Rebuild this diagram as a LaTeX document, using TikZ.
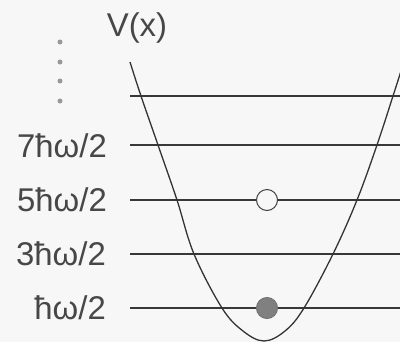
\documentclass[tikz,border=0pt]{standalone}
\usepackage{fontspec}
\setmainfont{Liberation Sans}
\begin{document}
\begin{tikzpicture}[x=1bp,y=-1bp,
  lbl/.style={anchor=east, font=\fontsize{33}{33}\selectfont, text=black!72, inner sep=0pt},
  level/.style={draw=black!78, line width=1.3pt},
  curve/.style={draw=black!80, line width=1.3pt},
  dot/.style={circle, fill=black!40, inner sep=0pt, minimum size=5bp},
  particle/.style={circle, draw=black!75, line width=1pt, inner sep=0pt, minimum size=21bp}]
\fill[black!3] (0,0) rectangle (400,342);
\useasboundingbox (0,0) rectangle (400,342);
% potential label
\node[font=\fontsize{33}{33}\selectfont, text=black!72, inner sep=0pt] (V) at (137,28) {V(x)};
% vertical dots
\node[dot] (d1) at (60,42) {};
\node[dot] (d2) at (60,62) {};
\node[dot] (d3) at (60,81) {};
\node[dot] (d4) at (60,101) {};
% labels
\node[lbl] (l7) at (107,146) {7ħω/2};
\node[lbl] (l5) at (107,200) {5ħω/2};
\node[lbl] (l3) at (106,254) {3ħω/2};
\node[lbl] (l1) at (106,308) {ħω/2};
% level line endpoints
\coordinate (s9) at (130,96);  \coordinate (e9) at (400,96);
\coordinate (s7) at (130,145); \coordinate (e7) at (400,145);
\coordinate (s5) at (130,200); \coordinate (e5) at (400,200);
\coordinate (s3) at (130,254); \coordinate (e3) at (400,254);
\coordinate (s1) at (130,308); \coordinate (e1) at (400,308);
\foreach \i in {9,7,5,3,1} \draw[level] (s\i) -- (e\i);
% parabola
\draw[curve] plot[smooth, tension=0.6] coordinates {(130,62) (141,96) (158,145) (177,200) (194,254) (222,308) (243,331) (264,341) (285,331) (304,308) (333,254) (357,200) (377,145) (393,96) (402,68)};
% particles
\node[particle, fill=black!3] (p5) at (267,200) {};
\node[particle, fill=black!50, draw=black!55] (p1) at (267,308) {};
\end{tikzpicture}
\end{document}
